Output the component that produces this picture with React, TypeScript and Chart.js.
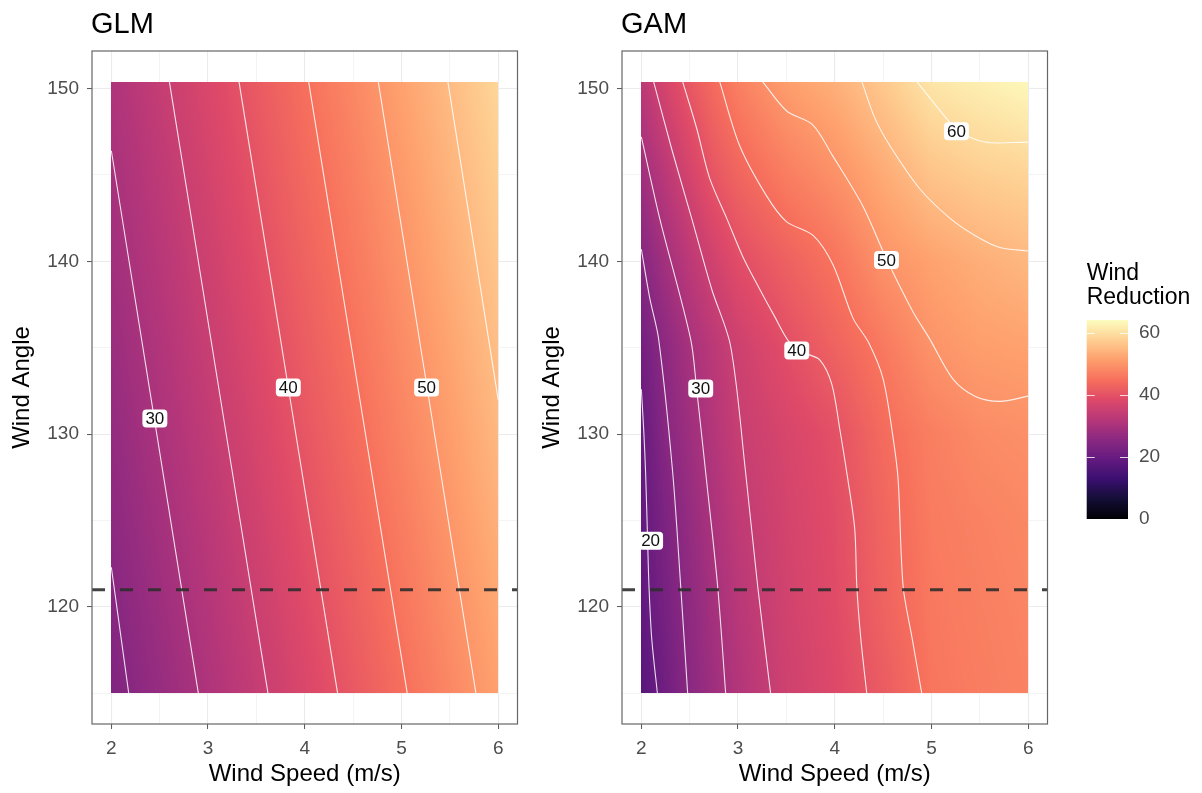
import React, { useEffect, useRef } from "react";
import { Chart, registerables } from "chart.js";
Chart.register(...registerables);

const FONT = "'Liberation Sans', Arial, Helvetica, sans-serif";

// ---- axes ----
const SPEED_MIN = 1.8;
const SPEED_MAX = 6.2;
const ANGLE_MIN = 113.23;
const ANGLE_MAX = 152.17;
const SPEED_TICKS = [2, 2.5, 3, 3.5, 4, 4.5, 5, 5.5, 6];
const SPEED_LABELS = [2, 3, 4, 5, 6];
const ANGLE_TICKS = [115, 120, 125, 130, 135, 140, 145, 150];
const ANGLE_LABELS = [120, 130, 140, 150];
const LEGEND_TICKS = [0, 20, 40, 60];
const LEGEND_MAX = 64.2;
const DASH_ANGLE = 121;

// ---- prediction grids (rows = angles, columns = speeds) ----
const GRID_ANGLES = [115, 120, 125, 130, 135, 140, 145, 150.4];

const GLM_SPEEDS = [2, 2.5, 3, 3.5, 4, 4.5, 5, 5.5, 6];
const GLM_VALUES = [
  [23.7, 27.2, 30.7, 34.2, 37.7, 41.1, 44.6, 48.1, 51.6],
  [24.7, 28.2, 31.7, 35.2, 38.7, 42.1, 45.6, 49.1, 52.6],
  [25.7, 29.2, 32.7, 36.2, 39.7, 43.1, 46.6, 50.1, 53.6],
  [26.7, 30.2, 33.7, 37.2, 40.7, 44.1, 47.6, 51.1, 54.6],
  [27.7, 31.2, 34.7, 38.2, 41.7, 45.1, 48.6, 52.1, 55.6],
  [28.7, 32.2, 35.7, 39.2, 42.7, 46.1, 49.6, 53.1, 56.6],
  [29.7, 33.2, 36.7, 40.2, 43.7, 47.1, 50.6, 54.1, 57.6],
  [30.8, 34.3, 37.8, 41.3, 44.8, 48.2, 51.7, 55.2, 58.7],
];

const GAM_SPEEDS = [2, 2.25, 2.5, 2.75, 3, 3.5, 4, 4.5, 5, 5.5, 6];
const GAM_VALUES = [
  [17.3, 21.3, 25.3, 28.4, 31.4, 35.8, 38.3, 41.5, 45.6, 46.7, 47.5],
  [18.7, 22.4, 26.0, 29.3, 32.3, 36.3, 38.8, 42.7, 46.0, 47.0, 47.8],
  [19.0, 23.2, 27.0, 30.4, 33.4, 36.7, 39.1, 43.2, 46.4, 47.4, 48.2],
  [19.4, 24.9, 28.3, 31.6, 34.6, 37.3, 39.7, 44.1, 46.9, 48.6, 49.2],
  [21.6, 25.8, 29.7, 32.8, 35.6, 39.3, 42.7, 46.1, 49.7, 51.2, 51.7],
  [24.6, 29.1, 32.9, 36.2, 39.1, 42.4, 45.4, 49.6, 51.8, 53.4, 54.6],
  [28.5, 32.7, 36.8, 40.6, 43.1, 46.7, 49.4, 52.9, 56.2, 57.6, 58.4],
  [32.9, 37.1, 41.0, 44.2, 47.1, 51.2, 53.6, 56.9, 60.9, 62.3, 63.5],
];

// ---- contour lines [speed, angle] ----
const GLM_C25 = [[2, 122.3], [2.18, 115]];
const GLM_C30 = [[2, 146.4], [2.9, 115]];
const GLM_C35 = [[2.6, 150.4], [3.62, 115]];
const GLM_C40 = [[3.32, 150.4], [4.34, 115]];
const GLM_C45 = [[4.04, 150.4], [5.06, 115]];
const GLM_C50 = [[4.76, 150.4], [5.77, 115]];
const GLM_C55 = [[5.48, 150.4], [6, 132]];
const GLM_CONTOURS = [GLM_C25, GLM_C30, GLM_C35, GLM_C40, GLM_C45, GLM_C50, GLM_C55];
const GLM_LABEL_TEXT = ["30", "40", "50"];
const GLM_LABEL_SPEED = [2.45, 3.83, 5.26];
const GLM_LABEL_ANGLE = [130.9, 132.7, 132.7];

const GAM_C20 = [[2, 132.6], [2.024, 130.3], [2.044, 127.8], [2.065, 123.8], [2.079, 121.2], [2.107, 118.2], [2.166, 115]];
const GAM_C25 = [[2, 140.7], [2.086, 137.9], [2.179, 135.5], [2.324, 127.8], [2.407, 121.2], [2.479, 115]];
const GAM_C30 = [[2, 147.2], [2.189, 142.5], [2.51, 135.5], [2.572, 132.6], [2.665, 127.8], [2.789, 121.2], [2.872, 115]];
const GAM_C35 = [[2.127, 150.4], [2.314, 146.5], [2.52, 142.5], [2.727, 138.4], [2.923, 135.1], [3.078, 127.8], [3.203, 121.2], [3.337, 115]];
const GAM_C40 = [[2.427, 150.4], [2.572, 147.7], [2.707, 144.8], [2.882, 142.5], [3.047, 140.3], [3.223, 138.4], [3.379, 136.8], [3.534, 135.3], [3.69, 134.7], [3.845, 134.3], [3.969, 132.9], [4.052, 130.3], [4.135, 127.4], [4.207, 124.5], [4.228, 121.2], [4.269, 118.2], [4.331, 115]];
const GAM_C45 = [[2.81, 150.4], [3.016, 146.7], [3.293, 143.8], [3.5, 142.3], [3.776, 141.5], [3.982, 139.8], [4.19, 136.7], [4.35, 135.3], [4.5, 133.2], [4.603, 129.8], [4.655, 127.4], [4.707, 121.2], [4.8, 118.2], [4.9, 115]];
const GAM_C50 = [[3.254, 150.4], [3.503, 148.7], [3.772, 147.9], [3.979, 146.1], [4.29, 143.2], [4.538, 140.1], [4.807, 137.1], [4.983, 135.5], [5.221, 133.2], [5.449, 132.2], [5.707, 131.9], [6, 132.2]];
const GAM_C55 = [[4.28, 150.4], [4.414, 148.3], [4.569, 146.7], [4.879, 144.2], [5.19, 142.5], [5.449, 141.5], [5.707, 140.8], [6, 140.6]];
const GAM_C60 = [[4.849, 150.4], [5.035, 149.1], [5.27, 147.6], [5.552, 146.9], [6, 146.9]];
const GAM_CONTOURS = [GAM_C20, GAM_C25, GAM_C30, GAM_C35, GAM_C40, GAM_C45, GAM_C50, GAM_C55, GAM_C60];
const GAM_LABEL_TEXT = ["20", "30", "40", "50", "60"];
const GAM_LABEL_SPEED = [2.096, 2.614, 3.607, 4.535, 5.258];
const GAM_LABEL_ANGLE = [123.84, 132.64, 134.84, 140.07, 147.53];

// ---- magma palette ----
const MAGMA = ["#000004", "#140E36", "#3B0F70", "#641A80", "#8C2981", "#B73779", "#DE4968", "#F7705C", "#FE9F6D", "#FECF92", "#FCFDBF"];
const MAGMA_RGB = MAGMA.map((h) => [parseInt(h.slice(1, 3), 16), parseInt(h.slice(3, 5), 16), parseInt(h.slice(5, 7), 16)]);

function magma(t: number): number[] {
  const tt = Math.max(0, Math.min(1, t));
  const f = tt * (MAGMA_RGB.length - 1);
  const i = Math.min(MAGMA_RGB.length - 2, Math.floor(f));
  const u = f - i;
  const a = MAGMA_RGB[i];
  const b = MAGMA_RGB[i + 1];
  return [a[0] + (b[0] - a[0]) * u, a[1] + (b[1] - a[1]) * u, a[2] + (b[2] - a[2]) * u];
}

function locate(arr: number[], v: number): [number, number] {
  const n = arr.length;
  if (v <= arr[0]) return [0, 0];
  if (v >= arr[n - 1]) return [n - 2, 1];
  let i = 0;
  while (i < n - 2 && v > arr[i + 1]) i++;
  return [i, (v - arr[i]) / (arr[i + 1] - arr[i])];
}

function sample(xs: number[], ys: number[], z: number[][], x: number, y: number): number {
  const [i, tx] = locate(xs, x);
  const [j, ty] = locate(ys, y);
  const z00 = z[j][i], z01 = z[j][i + 1], z10 = z[j + 1][i], z11 = z[j + 1][i + 1];
  return (z00 * (1 - tx) + z01 * tx) * (1 - ty) + (z10 * (1 - tx) + z11 * tx) * ty;
}

function roundRectPath(ctx: CanvasRenderingContext2D, x: number, y: number, w: number, h: number, r: number) {
  ctx.beginPath();
  ctx.moveTo(x + r, y);
  ctx.lineTo(x + w - r, y);
  ctx.quadraticCurveTo(x + w, y, x + w, y + r);
  ctx.lineTo(x + w, y + h - r);
  ctx.quadraticCurveTo(x + w, y + h, x + w - r, y + h);
  ctx.lineTo(x + r, y + h);
  ctx.quadraticCurveTo(x, y + h, x, y + h - r);
  ctx.lineTo(x, y + r);
  ctx.quadraticCurveTo(x, y, x + r, y);
  ctx.closePath();
}

type PanelSpec = {
  title: string;
  speeds: number[];
  values: number[][];
  contours: number[][][];
  labelText: string[];
  labelSpeed: number[];
  labelAngle: number[];
};

function makePanel(canvas: HTMLCanvasElement, spec: PanelSpec) {
  const heatmap = {
    id: "heatmap",
    beforeDatasetsDraw(chart: any) {
      const { ctx } = chart;
      const xs = chart.scales.x;
      const ys = chart.scales.y;
      const x0 = Math.round(xs.getPixelForValue(spec.speeds[0]));
      const x1 = Math.round(xs.getPixelForValue(spec.speeds[spec.speeds.length - 1]));
      const y0 = Math.round(ys.getPixelForValue(GRID_ANGLES[GRID_ANGLES.length - 1]));
      const y1 = Math.round(ys.getPixelForValue(GRID_ANGLES[0]));
      const w = x1 - x0;
      const h = y1 - y0;
      const off = document.createElement("canvas");
      off.width = w;
      off.height = h;
      const octx = off.getContext("2d")!;
      const img = octx.createImageData(w, h);
      for (let r = 0; r < h; r++) {
        const a = ys.getValueForPixel(y0 + r + 0.5);
        for (let c = 0; c < w; c++) {
          const s = xs.getValueForPixel(x0 + c + 0.5);
          const v = sample(spec.speeds, GRID_ANGLES, spec.values, s, a);
          const col = magma(v / LEGEND_MAX);
          const k = (r * w + c) * 4;
          img.data[k] = col[0];
          img.data[k + 1] = col[1];
          img.data[k + 2] = col[2];
          img.data[k + 3] = 255;
        }
      }
      octx.putImageData(img, 0, 0);
      ctx.drawImage(off, x0, y0);
    },
    afterDatasetsDraw(chart: any) {
      const { ctx } = chart;
      const xs = chart.scales.x;
      const ys = chart.scales.y;
      ctx.save();
      ctx.font = `17px ${FONT}`;
      ctx.textAlign = "center";
      ctx.textBaseline = "middle";
      for (let i = 0; i < spec.labelText.length; i++) {
        const px = xs.getPixelForValue(spec.labelSpeed[i]);
        const py = ys.getPixelForValue(spec.labelAngle[i]);
        const tw = ctx.measureText(spec.labelText[i]).width;
        const bw = tw + 6;
        const bh = 18;
        roundRectPath(ctx, px - bw / 2, py - bh / 2, bw, bh, 4);
        ctx.fillStyle = "#ffffff";
        ctx.fill();
        ctx.fillStyle = "#111111";
        ctx.fillText(spec.labelText[i], px, py + 1);
      }
      ctx.restore();
    },
    afterDraw(chart: any) {
      const { ctx, chartArea } = chart;
      ctx.save();
      ctx.strokeStyle = "#666666";
      ctx.lineWidth = 1.2;
      ctx.strokeRect(chartArea.left, chartArea.top, chartArea.right - chartArea.left, chartArea.bottom - chartArea.top);
      ctx.fillStyle = "#000000";
      ctx.font = `29px ${FONT}`;
      ctx.textAlign = "left";
      ctx.textBaseline = "alphabetic";
      ctx.fillText(spec.title, chartArea.left - 1, 33);
      ctx.restore();
    },
  };

  const contourSets = spec.contours.map((pts) => ({
    data: pts.map((p) => ({ x: p[0], y: p[1] })),
    showLine: true,
    borderColor: "rgba(255,255,255,0.85)",
    borderWidth: 1.1,
    pointRadius: 0,
    tension: 0.3,
    fill: false,
  }));

  const dashSet = {
    data: [{ x: SPEED_MIN, y: DASH_ANGLE }, { x: SPEED_MAX, y: DASH_ANGLE }],
    showLine: true,
    borderColor: "rgba(45,45,45,0.9)",
    borderWidth: 3,
    borderDash: [13, 15],
    pointRadius: 0,
    fill: false,
  };

  return new Chart(canvas, {
    type: "scatter",
    data: { datasets: [dashSet, ...contourSets] as any },
    plugins: [heatmap],
    options: {
      responsive: false,
      animation: false,
      events: [],
      layout: { padding: { top: 51, right: 22.5, bottom: 0, left: 0 } },
      plugins: { legend: { display: false }, tooltip: { enabled: false } },
      scales: {
        x: {
          type: "linear",
          min: SPEED_MIN,
          max: SPEED_MAX,
          afterBuildTicks: (s: any) => {
            s.ticks = SPEED_TICKS.map((v) => ({ value: v }));
          },
          afterFit: (s: any) => {
            s.height = 69;
          },
          ticks: {
            autoSkip: false,
            maxRotation: 0,
            padding: 8,
            color: "#4d4d4d",
            font: { family: FONT, size: 19 },
            callback: (v: any) => (SPEED_LABELS.includes(Number(v)) ? String(v) : ""),
          },
          grid: {
            color: "#ebebeb",
            lineWidth: (c: any) => (c.tick && SPEED_LABELS.includes(c.tick.value) ? 1.1 : 0.55),
            tickColor: (c: any) => (c.tick && SPEED_LABELS.includes(c.tick.value) ? "#555555" : "rgba(0,0,0,0)"),
            tickLength: 5,
            tickWidth: 1,
          },
          border: { display: false },
          title: {
            display: true,
            text: "Wind Speed (m/s)",
            color: "#000000",
            font: { family: FONT, size: 24 },
            padding: { top: 0, bottom: 4 },
          },
        },
        y: {
          type: "linear",
          min: ANGLE_MIN,
          max: ANGLE_MAX,
          afterBuildTicks: (s: any) => {
            s.ticks = ANGLE_TICKS.map((v) => ({ value: v }));
          },
          afterFit: (s: any) => {
            s.width = 92;
          },
          ticks: {
            autoSkip: false,
            padding: 8,
            color: "#4d4d4d",
            font: { family: FONT, size: 19 },
            callback: (v: any) => (ANGLE_LABELS.includes(Number(v)) ? String(v) : ""),
          },
          grid: {
            color: "#ebebeb",
            lineWidth: (c: any) => (c.tick && ANGLE_LABELS.includes(c.tick.value) ? 1.1 : 0.55),
            tickColor: (c: any) => (c.tick && ANGLE_LABELS.includes(c.tick.value) ? "#555555" : "rgba(0,0,0,0)"),
            tickLength: 5,
            tickWidth: 1,
          },
          border: { display: false },
          title: {
            display: true,
            text: "Wind Angle",
            color: "#000000",
            font: { family: FONT, size: 24 },
            padding: { top: 8, bottom: 0 },
          },
        },
      },
    } as any,
  });
}

function makeLegend(canvas: HTMLCanvasElement) {
  const bar = {
    id: "colorbar",
    afterDraw(chart: any) {
      const { ctx, chartArea } = chart;
      const ys = chart.scales.y;
      ctx.save();
      for (let py = Math.floor(chartArea.top); py < Math.ceil(chartArea.bottom); py++) {
        const v = ys.getValueForPixel(py + 0.5);
        const c = magma(v / LEGEND_MAX);
        ctx.fillStyle = `rgb(${Math.round(c[0])},${Math.round(c[1])},${Math.round(c[2])})`;
        ctx.fillRect(chartArea.left, py, chartArea.right - chartArea.left, 1);
      }
      ctx.strokeStyle = "rgba(255,255,255,0.8)";
      ctx.lineWidth = 1;
      for (const t of LEGEND_TICKS) {
        const py = Math.round(ys.getPixelForValue(t)) + 0.5;
        ctx.beginPath();
        ctx.moveTo(chartArea.left, py);
        ctx.lineTo(chartArea.left + 8, py);
        ctx.moveTo(chartArea.right - 8, py);
        ctx.lineTo(chartArea.right, py);
        ctx.stroke();
      }
      ctx.fillStyle = "#000000";
      ctx.font = `23px ${FONT}`;
      ctx.textAlign = "left";
      ctx.textBaseline = "alphabetic";
      ctx.fillText("Wind", chartArea.left, 280);
      ctx.fillText("Reduction", chartArea.left, 304);
      ctx.restore();
    },
  };
  return new Chart(canvas, {
    type: "scatter",
    data: { datasets: [] },
    plugins: [bar],
    options: {
      responsive: false,
      animation: false,
      events: [],
      layout: { padding: { top: 320, right: 0, bottom: 274.3, left: 16.7 } },
      plugins: { legend: { display: false }, tooltip: { enabled: false } },
      scales: {
        x: { type: "linear", display: false, min: 0, max: 1 },
        y: {
          type: "linear",
          position: "right",
          min: 0,
          max: LEGEND_MAX,
          afterBuildTicks: (s: any) => {
            s.ticks = LEGEND_TICKS.map((v) => ({ value: v }));
          },
          afterFit: (s: any) => {
            s.width = 74;
          },
          ticks: { padding: 11, color: "#4d4d4d", font: { family: FONT, size: 19 } },
          grid: { display: false, drawTicks: false, tickLength: 0 },
          border: { display: false },
        },
      },
    } as any,
  });
}

export default function App() {
  const glmRef = useRef<HTMLCanvasElement>(null);
  const gamRef = useRef<HTMLCanvasElement>(null);
  const legRef = useRef<HTMLCanvasElement>(null);

  useEffect(() => {
    const charts: Chart[] = [];
    if (glmRef.current)
      charts.push(
        makePanel(glmRef.current, {
          title: "GLM",
          speeds: GLM_SPEEDS,
          values: GLM_VALUES,
          contours: GLM_CONTOURS,
          labelText: GLM_LABEL_TEXT,
          labelSpeed: GLM_LABEL_SPEED,
          labelAngle: GLM_LABEL_ANGLE,
        })
      );
    if (gamRef.current)
      charts.push(
        makePanel(gamRef.current, {
          title: "GAM",
          speeds: GAM_SPEEDS,
          values: GAM_VALUES,
          contours: GAM_CONTOURS,
          labelText: GAM_LABEL_TEXT,
          labelSpeed: GAM_LABEL_SPEED,
          labelAngle: GAM_LABEL_ANGLE,
        })
      );
    if (legRef.current) charts.push(makeLegend(legRef.current));
    return () => charts.forEach((c) => c.destroy());
  }, []);

  return (
    <div style={{ position: "fixed", left: 0, top: 0, width: 1202, height: 793, background: "#ffffff", overflow: "hidden" }}>
      <canvas ref={glmRef} width={540} height={793} style={{ position: "absolute", left: 0, top: 0 }} />
      <canvas ref={gamRef} width={540} height={793} style={{ position: "absolute", left: 530, top: 0 }} />
      <canvas ref={legRef} width={132} height={793} style={{ position: "absolute", left: 1070, top: 0 }} />
    </div>
  );
}
